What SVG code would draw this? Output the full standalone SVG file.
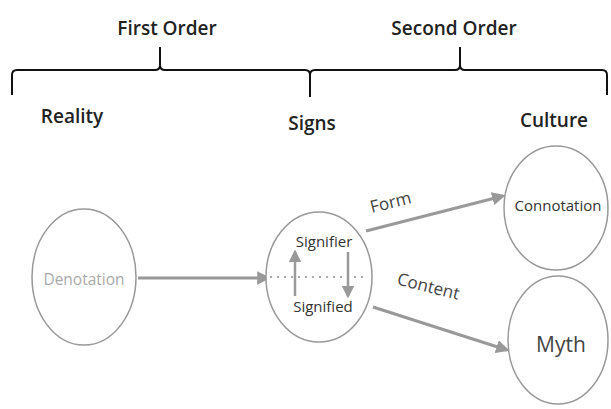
<svg xmlns="http://www.w3.org/2000/svg" width="611" height="409" viewBox="0 0 611 409">
<defs>
<style>
.hdr{font-family:"Open Sans","Liberation Sans",sans-serif;font-size:19px;font-weight:600;fill:#222;text-anchor:middle}
.node{fill:#fff;stroke:#999;stroke-width:1.5}
.lbl{font-family:"Open Sans","Liberation Sans",sans-serif;text-anchor:middle}
.conn{stroke:#999;stroke-width:3;fill:none}
</style>
<marker id="ah" viewBox="0 0 10 10" refX="8" refY="5" markerWidth="4.5" markerHeight="4.5" orient="auto" markerUnits="strokeWidth">
<path d="M0,0 L10,5 L0,10 z" fill="#999"/>
</marker>
<marker id="ahs" viewBox="0 0 10 10" refX="8" refY="5" markerWidth="5" markerHeight="5" orient="auto" markerUnits="strokeWidth">
<path d="M0,0 L10,5 L0,10 z" fill="#999"/>
</marker>
</defs>
<rect width="611" height="409" fill="#fff"/>
<g id="brace" fill="none" stroke="#111" stroke-width="2">
<path d="M12,95 L12,75 Q12,70 17,70 L155,70 Q160,70 160,65 L160,47 M160,65 Q160,70 165,70 L305,70 Q310,70 310,75 L310,97 M310,75 Q310,70 315,70 L455,70 Q460,70 460,65 L460,47 M460,65 Q460,70 465,70 L602,70 Q607,70 607,75 L607,95"/>
</g>
<g id="headers">
<text class="hdr" x="167" y="35">First Order</text>
<text class="hdr" x="454" y="35">Second Order</text>
<text class="hdr" x="72" y="123">Reality</text>
<text class="hdr" x="312" y="130">Signs</text>
<text class="hdr" x="554" y="127">Culture</text>
</g>
<g id="connectors">
<line class="conn" x1="138" y1="278" x2="268" y2="278" marker-end="url(#ah)"/>
<line class="conn" x1="366" y1="231" x2="503" y2="196" marker-end="url(#ah)"/>
<line class="conn" x1="373" y1="307" x2="507" y2="350" marker-end="url(#ah)"/>
<text class="lbl" font-size="17" fill="#444" transform="translate(392,208) rotate(-14)">Form</text>
<text class="lbl" font-size="17" fill="#444" transform="translate(427,292) rotate(14)">Content</text>
</g>
<g id="denotation">
<ellipse class="node" cx="84" cy="277" rx="52" ry="68"/>
<text class="lbl" x="84" y="285" font-size="15.5" fill="#aaa">Denotation</text>
</g>
<g id="signs">
<ellipse class="node" cx="319" cy="277" rx="53" ry="65"/>
<line x1="270" y1="277" x2="368" y2="277" stroke="#aaa" stroke-width="2" stroke-dasharray="2,5"/>
<line x1="295" y1="296" x2="295" y2="252" stroke="#999" stroke-width="2.5" marker-end="url(#ahs)"/>
<line x1="348" y1="252" x2="348" y2="296" stroke="#999" stroke-width="2.5" marker-end="url(#ahs)"/>
<text class="lbl" x="324" y="247" font-size="15" fill="#333">Signifier</text>
<text class="lbl" x="323" y="312" font-size="15" fill="#333">Signified</text>
</g>
<g id="connotation">
<ellipse class="node" cx="556" cy="208" rx="52" ry="62"/>
<text class="lbl" x="558" y="211" font-size="15" fill="#333">Connotation</text>
</g>
<g id="myth">
<ellipse class="node" cx="558" cy="340" rx="50" ry="64"/>
<text class="lbl" x="561" y="352" font-size="21" fill="#444">Myth</text>
</g>
</svg>
